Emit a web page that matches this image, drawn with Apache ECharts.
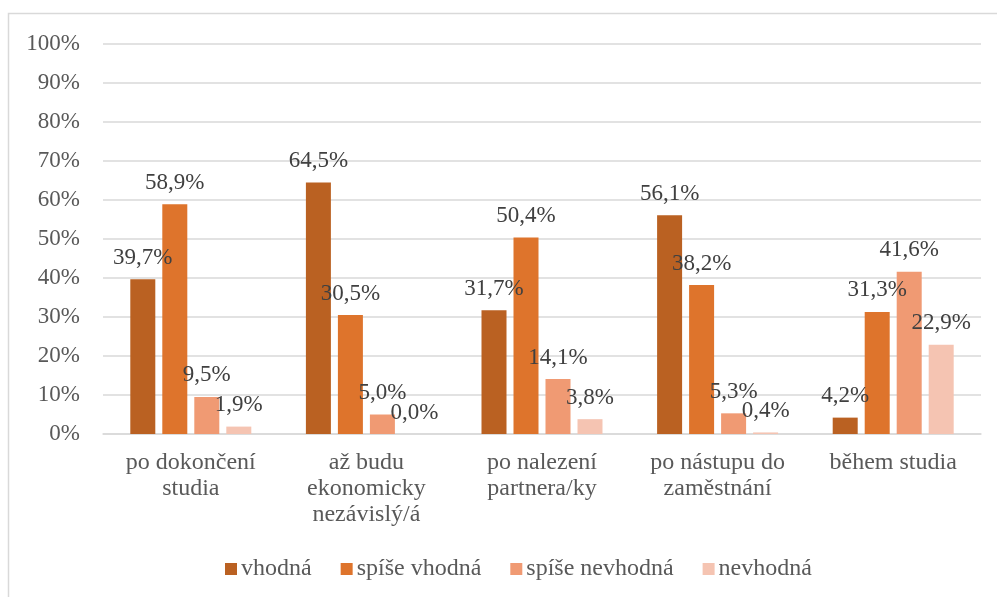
<!DOCTYPE html>
<html>
<head>
<meta charset="utf-8">
<script src="https://cdn.jsdelivr.net/npm/echarts@6/dist/echarts.min.js"></script>
<style>
  html, body { margin: 0; padding: 0; background: #fff; }
  #chart { width: 997px; height: 597px; }
</style>
</head>
<body>
<div id="chart"></div>
<script>
var categories = ["po dokončení\nstudia", "až budu\nekonomicky\nnezávislý/á", "po nalezení\npartnera/ky", "po nástupu do\nzaměstnání", "během studia"];
var seriesNames = ["vhodná", "spíše vhodná", "spíše nevhodná", "nevhodná"];
var vhodna = [39.7, 64.5, 31.7, 56.1, 4.2];
var spiseVhodna = [58.9, 30.5, 50.4, 38.2, 31.3];
var spiseNevhodna = [9.5, 5.0, 14.1, 5.3, 41.6];
var nevhodna = [1.9, 0.0, 3.8, 0.4, 22.9];
var colors = ["#BA6122", "#DE742C", "#F09A73", "#F5C4B2"];

var font = "Liberation Serif";
var chart = echarts.init(document.getElementById("chart"));

function makeSeries(name, data, color) {
    return {
        name: name,
        type: "bar",
        data: data,
        barWidth: 25,
        barGap: "28%",
        itemStyle: { color: color },
        label: {
            show: true,
            position: "top",
            distance: 10,
            fontFamily: font,
            fontSize: 23,
            color: "#404040",
            formatter: function (p) {
                return p.value.toFixed(1).replace(".", ",") + "%";
            }
        }
    };
}

var option = {
    animation: false,
    color: colors,
    graphic: [{
        type: "rect",
        shape: { x: 8.5, y: 13.5, width: 1000, height: 600 },
        style: { fill: "none", stroke: "#d9d9d9", lineWidth: 1.5 },
        silent: true
    }],
    grid: { left: 103, right: 16, top: 44, bottom: 163 },
    legend: {
        data: seriesNames,
        bottom: 11,
        left: 220,
        itemWidth: 12,
        itemHeight: 12,
        itemGap: 29,
        icon: "rect",
        textStyle: { fontFamily: font, fontSize: 24, color: "#595959", padding: [0, 0, 0, -1] }
    },
    xAxis: {
        type: "category",
        data: categories,
        axisLine: { lineStyle: { color: "#d9d9d9", width: 1.5 } },
        axisTick: { show: false },
        axisLabel: {
            fontFamily: font,
            fontSize: 24,
            lineHeight: 26,
            color: "#595959",
            margin: 16,
            interval: 0
        }
    },
    yAxis: {
        type: "value",
        min: 0,
        max: 100,
        interval: 10,
        axisLine: { show: false },
        axisTick: { show: false },
        splitLine: { lineStyle: { color: "#d9d9d9", width: 1.5 } },
        axisLabel: {
            fontFamily: font,
            fontSize: 23,
            color: "#595959",
            margin: 23,
            formatter: "{value}%"
        }
    },
    series: [
        makeSeries(seriesNames[0], vhodna, colors[0]),
        makeSeries(seriesNames[1], spiseVhodna, colors[1]),
        makeSeries(seriesNames[2], spiseNevhodna, colors[2]),
        makeSeries(seriesNames[3], nevhodna, colors[3])
    ]
};
chart.setOption(option);
window.addEventListener("resize", chart.resize);
</script>
</body>
</html>
